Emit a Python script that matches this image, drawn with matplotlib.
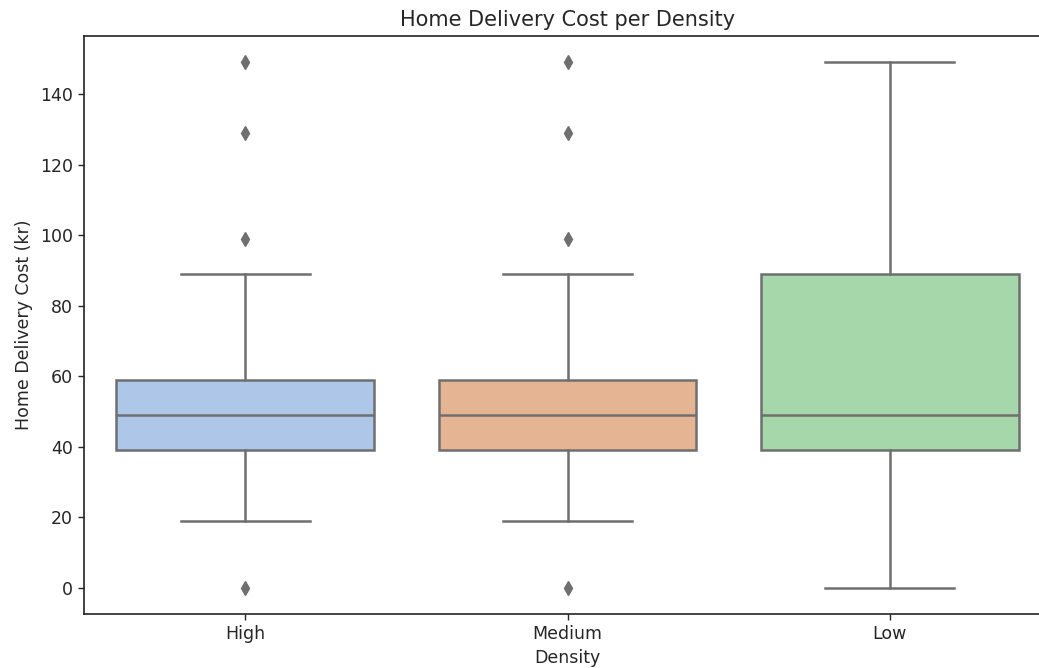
import matplotlib
matplotlib.use("Agg")
import matplotlib.pyplot as plt

# summary stats
densities = ["High", "Medium", "Low"]
q1 = [39, 39, 39]
median = [49, 49, 49]
q3 = [59, 59, 89]
whisker_lo = [19, 19, 0]
whisker_hi = [89, 89, 149]
outliers = [[0, 99, 129, 149], [0, 99, 129, 149], []]

# desaturated seaborn pastel, as seen in the picture
box_colors = ["#aec7e8", "#e5b593", "#a5d7ab"]
line_gray = "#6f6f6f"
text_color = "#262626"

plt.rcParams.update({
    "font.size": 12.5,
    "text.color": text_color,
    "axes.labelcolor": text_color,
    "xtick.color": text_color,
    "ytick.color": text_color,
    "xtick.major.size": 4.4,
    "ytick.major.size": 4.4,
    "xtick.major.width": 1.0,
    "ytick.major.width": 1.0,
    "axes.linewidth": 1.2,
    "axes.edgecolor": "#222222",
})

stats = []
for i, name in enumerate(densities):
    stats.append({
        "label": name,
        "q1": q1[i],
        "med": median[i],
        "q3": q3[i],
        "whislo": whisker_lo[i],
        "whishi": whisker_hi[i],
        "fliers": outliers[i],
    })

fig = plt.figure(figsize=(10.39, 6.68), dpi=100)
# the reference is cropped on the right, so the axes run past the figure edge
ax = fig.add_axes([84 / 1039, 1 - 614 / 668, (1051 - 84) / 1039, 578 / 668])

parts = ax.bxp(
    stats,
    positions=range(len(densities)),
    widths=0.8,
    patch_artist=True,
    showfliers=True,
    boxprops=dict(edgecolor=line_gray, linewidth=1.8),
    medianprops=dict(color=line_gray, linewidth=1.8),
    whiskerprops=dict(color=line_gray, linewidth=1.8),
    capprops=dict(color=line_gray, linewidth=1.8),
    flierprops=dict(marker="d", markersize=7, markerfacecolor=line_gray,
                    markeredgecolor=line_gray, linestyle="none"),
    capwidths=0.4,
)
for patch, col in zip(parts["boxes"], box_colors):
    patch.set_facecolor(col)

ax.set_xlim(-0.5, 2.5)
ax.set_ylim(-7.45, 156.45)
ax.set_xticks(range(len(densities)))
ax.set_xticklabels(densities)
ax.set_title("Home Delivery Cost per Density", fontsize=15, pad=7)
ax.set_xlabel("Density", labelpad=4)
ax.set_ylabel("Home Delivery Cost (kr)", labelpad=5)

fig.savefig("out.png", dpi=100)
